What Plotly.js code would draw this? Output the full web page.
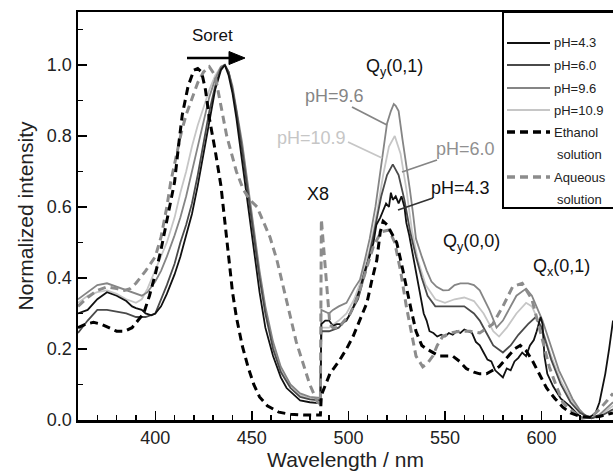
<!DOCTYPE html>
<html>
<head>
<meta charset="utf-8">
<script src="https://cdn.plot.ly/plotly-3.0.1.min.js"></script>
<style>html,body{margin:0;padding:0;background:#fff;}#chart{width:613px;height:471px;}</style>
</head>
<body>
<div id="chart"></div>
<script>
// ---------------- data ----------------
const seriesNames = ["pH=4.3", "pH=6.0", "pH=9.6", "pH=10.9", "Ethanol solution", "Aqueous solution"];

const wlPH43 = [360,365,370,375,380,385,388,390,393,395,398,400,403,406,410,413,416,419,422,425,428,431,434,436,438,440,442,445,448,451,454,457,461,465,468,475,480,485.5,
  486,488,490,492,494,496,499,502,504,506,508.5,511,513,514.5,516.5,518,519.5,521,522,523,524.5,526,527.5,529,530,531.5,533.5,535,537,539,540.5,542,544,546,548,550,552,554,556,558,560,562,564,566,568,570,572,574,576,578,580,582,584,586,588,590,592,594,596,597.5,599.5,600.5,601.5,603,606,610,614.5,618,621,625,628,630,633,635,637];
const intPH43 = [0.30,0.31,0.34,0.36,0.35,0.335,0.32,0.315,0.31,0.30,0.295,0.30,0.32,0.355,0.41,0.46,0.52,0.58,0.66,0.75,0.85,0.93,0.985,1.0,0.97,0.92,0.85,0.73,0.61,0.49,0.36,0.26,0.18,0.12,0.09,0.055,0.05,0.047,
  0.27,0.28,0.28,0.265,0.27,0.27,0.28,0.31,0.34,0.37,0.42,0.46,0.50,0.55,0.57,0.59,0.61,0.60,0.64,0.62,0.63,0.61,0.63,0.60,0.555,0.52,0.46,0.41,0.35,0.30,0.28,0.25,0.245,0.235,0.24,0.235,0.245,0.24,0.25,0.245,0.255,0.25,0.245,0.22,0.21,0.19,0.17,0.165,0.14,0.13,0.12,0.145,0.14,0.165,0.175,0.19,0.18,0.21,0.225,0.25,0.29,0.27,0.18,0.13,0.095,0.06,0.04,0.02,0.005,0.008,0.02,0.05,0.13,0.20,0.28];

const wlPH60 = [360,365,370,375,380,385,390,395,400,403,406,410,413,416,419,422,425,428,431,434,436,438,440,442,445,448,451,454,457,461,465,470,475,480,485.5,
  486,490,495,500,505,509,513,517,520,523,526,529,532,535,538,541,545,550,555,560,565,568,572,575,580,584,588,593,597,600,605,610,615,620,626,632,637];
const intPH60 = [0.245,0.28,0.31,0.31,0.305,0.30,0.29,0.29,0.30,0.34,0.38,0.44,0.50,0.55,0.61,0.69,0.78,0.87,0.94,0.99,1.0,0.98,0.93,0.87,0.76,0.64,0.52,0.40,0.30,0.20,0.135,0.09,0.065,0.058,0.055,
  0.25,0.25,0.26,0.29,0.34,0.42,0.52,0.63,0.69,0.72,0.69,0.62,0.53,0.46,0.40,0.35,0.32,0.32,0.32,0.32,0.30,0.28,0.24,0.21,0.19,0.21,0.24,0.27,0.29,0.26,0.17,0.10,0.05,0.02,0.005,0.015,0.03];

const wlPH96 = [360,365,370,375,380,385,390,393,396,400,403,406,410,413,416,419,422,425,428,431,434,436,438,440,442,445,448,451,454,457,461,465,470,475,480,485.5,
  486,490,492,495,499,503,506,508.5,511,514,516.5,518,520,522,523.5,524.5,526,528,530,531.8,533.5,535,538,540.6,543,545.7,549,552,555,558,562,565,568,571,573,576.7,580,582,587,592,595,600.5,605.7,609,613,616,619.6,623,626,630,633,637];
const intPH96 = [0.34,0.36,0.38,0.385,0.375,0.365,0.355,0.35,0.36,0.39,0.42,0.46,0.52,0.57,0.63,0.70,0.77,0.84,0.91,0.96,0.995,1.0,0.98,0.94,0.88,0.78,0.66,0.54,0.42,0.32,0.22,0.15,0.10,0.075,0.065,0.062,
  0.31,0.30,0.31,0.32,0.33,0.37,0.395,0.45,0.51,0.60,0.695,0.76,0.835,0.87,0.89,0.885,0.87,0.79,0.72,0.65,0.58,0.51,0.46,0.42,0.39,0.375,0.365,0.366,0.38,0.385,0.385,0.38,0.365,0.33,0.31,0.26,0.28,0.30,0.35,0.37,0.35,0.28,0.19,0.14,0.095,0.06,0.03,0.01,0.005,0.015,0.03,0.05];

const wlPH109 = [360,365,370,375,380,385,390,393,396,400,403,406,410,413,416,419,422,425,428,431,434,436,438,440,442,445,448,451,454,457,461,465,470,475,480,485.5,
  486,490,495,499,503,507,511,515,518,521,524,527,530,533,536,540,545,550,555,560,565,570,575,578,582,587,592,595,600,605,610,615,620,626,632,637];
const intPH109 = [0.33,0.35,0.36,0.365,0.355,0.34,0.33,0.34,0.37,0.42,0.46,0.50,0.57,0.64,0.70,0.77,0.83,0.88,0.93,0.97,0.995,1.0,0.98,0.93,0.87,0.77,0.65,0.53,0.41,0.31,0.21,0.14,0.095,0.07,0.06,0.058,
  0.26,0.26,0.28,0.30,0.34,0.40,0.48,0.59,0.69,0.77,0.80,0.75,0.65,0.53,0.45,0.38,0.34,0.33,0.34,0.345,0.335,0.30,0.25,0.235,0.26,0.30,0.33,0.32,0.26,0.18,0.11,0.06,0.02,0.005,0.02,0.04];

const wlEthanol = [360,364,368,372,376,380,384,388,391,394,397,400,403,406,408,410,412,414,417,420,422,424,426,428,431,434,436,438,440,442,445,448,451,454,458,464,470,477,485.5,
  486,488,490.4,495.6,499,502.4,506,509.6,512,514.7,516.5,518,520,523,525,527.5,530,532.5,535,538,540.6,544,547,551,554,557.6,561,565,568,571.5,574.7,578,582,586,589,592,595,598,602.6,607,611,615,620,625,630,637];
const intEthanol = [0.26,0.27,0.275,0.27,0.26,0.25,0.25,0.26,0.28,0.30,0.35,0.41,0.48,0.56,0.62,0.67,0.77,0.86,0.94,0.985,0.99,0.98,0.93,0.85,0.76,0.66,0.56,0.45,0.36,0.29,0.21,0.15,0.10,0.065,0.04,0.022,0.016,0.014,0.014,
  0.07,0.10,0.13,0.17,0.20,0.235,0.28,0.33,0.39,0.45,0.53,0.56,0.55,0.52,0.50,0.44,0.37,0.31,0.25,0.21,0.20,0.19,0.18,0.18,0.18,0.165,0.145,0.135,0.13,0.13,0.14,0.15,0.175,0.20,0.21,0.195,0.17,0.14,0.09,0.06,0.036,0.02,0.01,0.008,0.01,0.02];

const wlAqueous = [360,365,370,375,380,384,387,390,395,400,403,406,408,411,413.5,416,418.6,422,425,428,431,434,437,439,442,445.5,449,452.7,456,459.4,463,466,470,473,477,480,484,485.5,
  486,487,488.5,490.4,492,495,498,501,505,509,513,517,521,524,527,530,533,535,538.5,541,543.7,546,548.8,553,557.6,563,568,574.7,580,585,590,595,600.5,604,607.7,611,614.5,621,626,630,634,637];
const intAqueous = [0.32,0.345,0.365,0.375,0.37,0.365,0.37,0.385,0.42,0.46,0.515,0.60,0.67,0.75,0.81,0.86,0.90,0.95,0.98,0.995,0.97,0.88,0.80,0.76,0.70,0.65,0.62,0.60,0.56,0.515,0.45,0.385,0.29,0.22,0.15,0.10,0.05,0.045,
  0.565,0.50,0.40,0.27,0.26,0.26,0.28,0.30,0.35,0.42,0.49,0.53,0.535,0.50,0.42,0.32,0.24,0.18,0.15,0.16,0.18,0.21,0.235,0.245,0.25,0.25,0.245,0.27,0.32,0.375,0.385,0.34,0.225,0.15,0.095,0.05,0.03,0.005,0.01,0.03,0.055,0.075];

const xTickVals = [400, 450, 500, 550, 600];
const yTickVals = [0.0, 0.2, 0.4, 0.6, 0.8, 1.0];

// ---------------- styles ----------------
const FONT = "Liberation Sans, Arial, Helvetica, sans-serif";
const colPH43 = "#111111", colPH60 = "#4a4a4a", colPH96 = "#858585", colPH109 = "#c6c6c6";
const colEth = "#000000", colAq = "#8c8c8c";
const DASH = "8px,5px";

function solid(x, y, c, name) {
  return {x: x, y: y, type: "scatter", mode: "lines", name: name, line: {color: c, width: 1.8}, showlegend: false, hoverinfo: "skip"};
}
function dashed(x, y, c, name) {
  return {x: x, y: y, type: "scatter", mode: "lines", name: name, line: {color: c, width: 3, dash: DASH}, showlegend: false, hoverinfo: "skip"};
}

const traces = [
  solid(wlPH109, intPH109, colPH109, seriesNames[3]),
  solid(wlPH96, intPH96, colPH96, seriesNames[2]),
  solid(wlPH60, intPH60, colPH60, seriesNames[1]),
  solid(wlPH43, intPH43, colPH43, seriesNames[0]),
  dashed(wlAqueous, intAqueous, colAq, seriesNames[5]),
  dashed(wlEthanol, intEthanol, colEth, seriesNames[4])
];

// pixel -> paper helpers (plot area: x 78..613, y 12..420)
const L = 78, R = 613, T = 12, B = 420;
const px = v => (v - L) / (R - L);
const py = v => (B - v) / (B - T);

const shapes = [];
const annotations = [];

// legend box
shapes.push({type: "rect", xref: "paper", yref: "paper", x0: px(503), x1: px(660), y0: py(208), y1: py(12),
  line: {color: "#000", width: 2}, fillcolor: "rgba(255,255,255,0)"});
const legRows = [
  {y: 43, c: colPH43, d: "solid", w: 2, t: "pH=4.3"},
  {y: 65, c: colPH60, d: "solid", w: 2, t: "pH=6.0"},
  {y: 88, c: colPH96, d: "solid", w: 2, t: "pH=9.6"},
  {y: 110, c: colPH109, d: "solid", w: 2, t: "pH=10.9"},
  {y: 132, c: colEth, d: DASH, w: 3.5, t: "Ethanol"},
  {y: 177, c: colAq, d: DASH, w: 3.5, t: "Aqueous"}
];
legRows.forEach(r => {
  shapes.push({type: "line", xref: "paper", yref: "paper", x0: px(507), x1: px(550), y0: py(r.y), y1: py(r.y),
    line: {color: r.c, width: r.w, dash: r.d}});
  annotations.push({xref: "paper", yref: "paper", x: px(552), y: py(r.y), text: r.t, showarrow: false,
    xanchor: "left", yanchor: "middle", font: {family: FONT, size: 13, color: "#222"}});
});
[154, 199].forEach(y => annotations.push({xref: "paper", yref: "paper", x: px(555), y: py(y), text: "solution", showarrow: false,
  xanchor: "left", yanchor: "middle", font: {family: FONT, size: 13, color: "#222"}}));

// Soret arrow
shapes.push({type: "line", xref: "paper", yref: "paper", x0: px(187), x1: px(232), y0: py(58), y1: py(58), line: {color: "#000", width: 2.5}});
shapes.push({type: "path", xref: "paper", yref: "paper",
  path: `M ${px(229)} ${py(51.5)} L ${px(245)} ${py(58)} L ${px(229)} ${py(64.5)} Z`, fillcolor: "#000", line: {color: "#000", width: 1}});

// leader lines
const leaders = [
  {x0: 352, y0: 107, x1: 387, y1: 125, c: colPH96},
  {x0: 348, y0: 142, x1: 382, y1: 158, c: colPH109},
  {x0: 437, y0: 160, x1: 402, y1: 172, c: colPH96},
  {x0: 433, y0: 198, x1: 398, y1: 210, c: "#333"}
];
leaders.forEach(l => shapes.push({type: "line", xref: "paper", yref: "paper", x0: px(l.x0), y0: py(l.y0), x1: px(l.x1), y1: py(l.y1),
  line: {color: l.c, width: 1.8}}));

function label(x, y, text, color, size) {
  annotations.push({xref: "paper", yref: "paper", x: px(x), y: py(y), text: text, showarrow: false,
    xanchor: "center", yanchor: "middle", font: {family: FONT, size: size || 18, color: color}});
}
label(212, 35, "Soret", "#111", 17);
label(394, 68, "Q<sub>y</sub>(0,1)", "#111", 18);
label(334, 96, "pH=9.6", colPH96, 18);
label(311, 138, "pH=10.9", colPH109, 18);
label(465, 149, "pH=6.0", "#909090", 18);
label(460, 188, "pH=4.3", "#111", 18);
label(318, 194, "X8", "#111", 18);
label(471, 242, "Q<sub>y</sub>(0,0)", "#111", 18);
label(561, 267, "Q<sub>x</sub>(0,1)", "#111", 18);

const layout = {
  width: 613, height: 471,
  margin: {l: L, r: 0, t: T, b: 471 - B, pad: 0},
  paper_bgcolor: "#fff", plot_bgcolor: "#fff",
  showlegend: false,
  font: {family: FONT, size: 18, color: "#222"},
  xaxis: {
    range: [360, 637], tickvals: xTickVals, ticktext: xTickVals.map(String),
    ticks: "inside", ticklen: 9, tickwidth: 1.5, tickcolor: "#000",
    minor: {dtick: 10, tick0: 0, ticks: "inside", ticklen: 5, tickwidth: 1.5, tickcolor: "#000"},
    showline: true, linecolor: "#000", linewidth: 2.5, mirror: true,
    showgrid: false, zeroline: false,
    tickfont: {family: FONT, size: 18, color: "#222"},
    title: {text: "Wavelength / nm", font: {family: FONT, size: 21, color: "#222"}, standoff: 2}
  },
  yaxis: {
    range: [0, 1.149], tickvals: yTickVals, ticktext: yTickVals.map(v => v.toFixed(1)),
    ticks: "inside", ticklen: 9, tickwidth: 1.5, tickcolor: "#000",
    minor: {dtick: 0.1, tick0: 0, ticks: "inside", ticklen: 5, tickwidth: 1.5, tickcolor: "#000"},
    showline: true, linecolor: "#000", linewidth: 2.5, mirror: false,
    showgrid: false, zeroline: false,
    tickfont: {family: FONT, size: 18, color: "#222"},
    title: {text: "Normalized intensity", font: {family: FONT, size: 21, color: "#222"}, standoff: 8}
  },
  shapes: shapes,
  annotations: annotations
};

Plotly.newPlot("chart", traces, layout, {staticPlot: true, displayModeBar: false});
</script>
</body>
</html>
